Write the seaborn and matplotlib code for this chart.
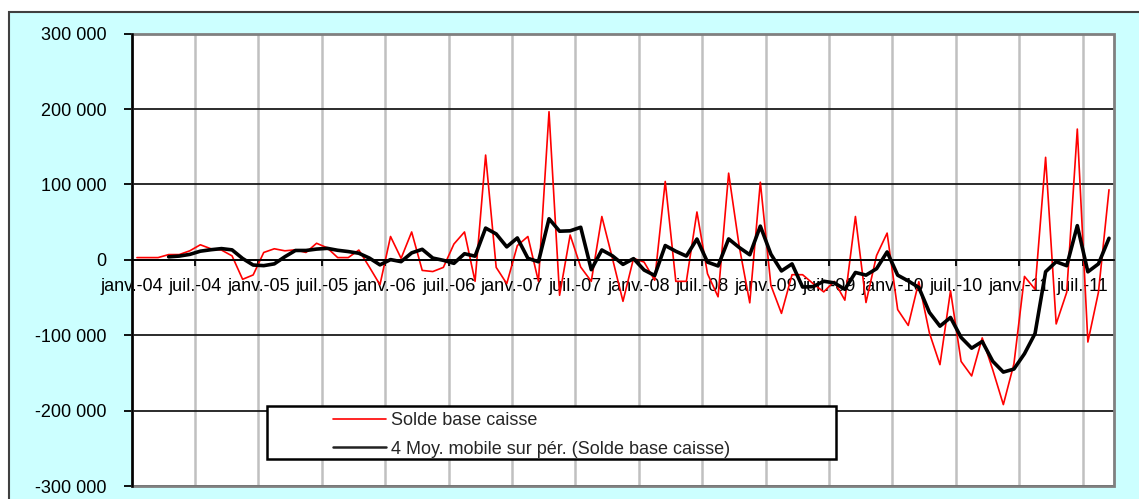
import matplotlib
matplotlib.use("Agg")
import matplotlib.pyplot as plt
from matplotlib.patches import Rectangle
from matplotlib.lines import Line2D
from matplotlib.ticker import FuncFormatter
import numpy as np
import pandas as pd
import seaborn as sns

# Solde base caisse, mensuel, janv.-04 -> sept.-11
solde = [
    3000, 3000, 3000, 7000, 7000, 12000, 20000, 14700, 13000, 5300, -25800, -20000,
    9800, 14700, 12000, 13300, 9800, 22000, 16000, 3000, 3000, 13000, -9600, -33000,
    31000, 2000, 37000, -14000, -15500, -10000, 21000, 37000, -28500, 139000, -10000, -31600,
    18900, 31000, -28500, 196500, -47000, 33000, -9600, -28500, 57500, 2000, -55000, 2000,
    -3000, -27000, 104000, -28500, -28500, 63500, -18400, -49000, 115000, 18000, -57000, 103000,
    -33800, -71000, -19700, -19700, -31600, -42500, -28500, -53500, 57500, -56600, 5700, 35500,
    -66000, -87000, -29000, -96800, -139000, -41000, -134700, -154000, -103500, -146000, -192000, -138000,
    -22000, -39000, 136000, -85000, -43000, 173500, -109000, -43000, 93000,
]
tick_labels = [f"{m}-{y:02d}" for y in range(4, 12) for m in ("janv.", "juil.")]
y_ticks = [-300000, -200000, -100000, 0, 100000, 200000, 300000]

label_red = "Solde base caisse"
label_ma = "4 Moy. mobile sur pér. (Solde base caisse)"

df = pd.DataFrame({"mois": np.arange(len(solde)) + 0.5, "solde": solde})
# courbe de tendance Excel : moyenne mobile sur 4 périodes
df["moy"] = df["solde"].rolling(4).mean()

sns.set_style("white")
plt.rcParams["font.family"] = ["Liberation Sans", "DejaVu Sans"]
plt.rcParams["axes.unicode_minus"] = False
FS = 13

fig = plt.figure(figsize=(11.39, 4.99), dpi=100)
fig.patch.set_facecolor("white")
fig.patches.append(Rectangle((0.0082, -0.02), 1.02, 0.9954, transform=fig.transFigure,
                             facecolor="#CCFFFF", edgecolor="#404040", lw=1.5, zorder=-10))
ax = fig.add_axes([0.1156, 0.026, 0.8627, 0.9065])
ax.set_facecolor("white")

sns.lineplot(data=df, x="mois", y="solde", color="#FF0000", lw=1.2, ax=ax)
sns.lineplot(data=df, x="mois", y="moy", color="black", lw=2.6, ax=ax)

ax.set_xlim(0, len(solde))
ax.set_ylim(-300000, 300000)
xt = np.arange(0, len(solde), 6)
ax.set_xticks(xt)
ax.set_xticklabels(tick_labels[:len(xt)])
ax.set_yticks(y_ticks)
ax.yaxis.set_major_formatter(FuncFormatter(lambda v, p: f"{v:,.0f}".replace(",", " ")))
ax.set_xlabel("")
ax.set_ylabel("")

ax.set_axisbelow(True)
ax.grid(axis="y", color="#1a1a1a", lw=1.3)
ax.grid(axis="x", color="#C0C0C0", lw=1.8)

# axe des abscisses sur la ligne zéro
ax.spines["bottom"].set_position(("data", 0))
ax.spines["bottom"].set_color("black")
ax.spines["bottom"].set_linewidth(1.3)
ax.spines["left"].set_color("black")
ax.spines["left"].set_linewidth(1.8)
ax.spines["top"].set_visible(False)
ax.spines["right"].set_visible(False)
ax.add_patch(Rectangle((0, 0), 1, 1, transform=ax.transAxes, fill=False,
                       edgecolor="#808080", lw=2, clip_on=False, zorder=2.4))

ax.tick_params(axis="x", direction="out", length=4, width=1.3, color="black", pad=9,
               labelcolor="black", labelsize=FS, bottom=True)
ax.tick_params(axis="y", direction="out", length=6, width=1.3, color="black", pad=12,
               labelcolor="black", labelsize=FS, left=True)

# légende
ax.add_patch(Rectangle((0.1377, 0.0597), 0.5791, 0.1178, transform=ax.transAxes,
                       facecolor="white", edgecolor="black", lw=1.8, zorder=5))
handles = [Line2D([], [], color="#FF0000", lw=1.2), Line2D([], [], color="#222222", lw=1.8)]
ax.legend(handles, [label_red, label_ma], loc="center left",
          bbox_to_anchor=(0.2046, 0.1128), frameon=False, fontsize=FS,
          borderpad=0, handlelength=2.95, handletextpad=0.3, labelspacing=0.62,
          borderaxespad=0).set_zorder(6)

fig.savefig("out.png", dpi=100)
